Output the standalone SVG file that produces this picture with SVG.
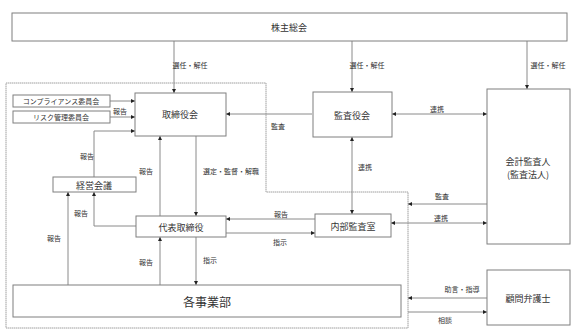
<svg xmlns="http://www.w3.org/2000/svg" width="578" height="334" viewBox="0 0 578 334">
<defs>
<marker id="ah" viewBox="0 0 6 6" refX="6" refY="3" markerWidth="4" markerHeight="4" orient="auto-start-reverse" markerUnits="userSpaceOnUse">
<path d="M0,0 L6,3 L0,6 z" fill="#222"/>
</marker>
<style>
.box{fill:#fff;stroke:#7f7f7f;stroke-width:1}
.ln{fill:none;stroke:#8a8a8a;stroke-width:1}
.t{font-family:"Noto Sans CJK JP","Noto Sans CJK SC",sans-serif;fill:#333;text-anchor:middle;dominant-baseline:central}
.s{font-size:7px}
.m{font-size:9px}
.l{font-size:12px}
</style>
</defs>
<rect width="578" height="334" fill="#fff"/>
<path d="M6,83 H266 V192 H408 V328 H6 Z" fill="none" stroke="#a0a0a0" stroke-width="1" stroke-dasharray="1.5,0.5"/>

<g id="connectors">
<line class="ln" x1="174" y1="41" x2="174" y2="93" marker-end="url(#ah)"/>
<line class="ln" x1="352" y1="41" x2="352" y2="92" marker-end="url(#ah)"/>
<line class="ln" x1="527" y1="41" x2="527" y2="89" marker-end="url(#ah)"/>
<line class="ln" x1="110" y1="101" x2="135" y2="101" marker-end="url(#ah)"/>
<line class="ln" x1="110" y1="117" x2="135" y2="117" marker-end="url(#ah)"/>
<polyline class="ln" points="94,177 94,131 135,131" marker-end="url(#ah)"/>
<line class="ln" x1="312" y1="114" x2="226" y2="114" marker-end="url(#ah)"/>
<line class="ln" x1="392" y1="114" x2="487" y2="114" marker-start="url(#ah)" marker-end="url(#ah)"/>
<line class="ln" x1="160" y1="216" x2="160" y2="136" marker-end="url(#ah)"/>
<line class="ln" x1="196" y1="136" x2="196" y2="216" marker-end="url(#ah)"/>
<line class="ln" x1="352" y1="137" x2="352" y2="214" marker-start="url(#ah)" marker-end="url(#ah)"/>
<line class="ln" x1="487" y1="204" x2="408" y2="204" marker-end="url(#ah)"/>
<line class="ln" x1="391" y1="223" x2="487" y2="223" marker-start="url(#ah)" marker-end="url(#ah)"/>
<line class="ln" x1="315" y1="219" x2="226" y2="219" marker-end="url(#ah)"/>
<line class="ln" x1="226" y1="233" x2="315" y2="233" marker-end="url(#ah)"/>
<polyline class="ln" points="136,226 94,226 94,192" marker-end="url(#ah)"/>
<line class="ln" x1="68" y1="285" x2="68" y2="192" marker-end="url(#ah)"/>
<line class="ln" x1="160" y1="285" x2="160" y2="237" marker-end="url(#ah)"/>
<line class="ln" x1="196" y1="237" x2="196" y2="285" marker-end="url(#ah)"/>
<line class="ln" x1="487" y1="298" x2="408" y2="298" marker-end="url(#ah)"/>
<line class="ln" x1="408" y1="312" x2="487" y2="312" marker-end="url(#ah)"/>
<text class="t s" x="190" y="65">選任・解任</text>
<text class="t s" x="367" y="65">選任・解任</text>
<text class="t s" x="548" y="65">選任・解任</text>
<text class="t s" x="120" y="111">報告</text>
<text class="t s" x="87" y="156">報告</text>
<text class="t s" x="146" y="171">報告</text>
<text class="t s" x="231" y="171">選定・監督・解職</text>
<text class="t s" x="278" y="126">監査</text>
<text class="t s" x="437" y="109">連携</text>
<text class="t s" x="365" y="167">連携</text>
<text class="t s" x="442" y="196">監査</text>
<text class="t s" x="441" y="218">連携</text>
<text class="t s" x="281" y="214">報告</text>
<text class="t s" x="280" y="242">指示</text>
<text class="t s" x="81" y="213">報告</text>
<text class="t s" x="54" y="238">報告</text>
<text class="t s" x="146" y="262">報告</text>
<text class="t s" x="210" y="260">指示</text>
<text class="t s" x="462" y="289">助言・指導</text>
<text class="t s" x="445" y="320">相談</text>
</g>

<g id="shareholders"><rect class="box" x="12" y="13" width="555" height="28"/><text class="t m" x="289" y="27">株主総会</text></g>
<g id="board"><rect class="box" x="135" y="93" width="91" height="43"/><text class="t m" x="180" y="114">取締役会</text></g>
<g id="compliance"><rect class="box" x="13" y="95" width="97" height="12"/><text class="t s" x="61" y="101">コンプライアンス委員会</text></g>
<g id="risk"><rect class="box" x="13" y="111" width="97" height="12"/><text class="t s" x="61" y="117">リスク管理委員会</text></g>
<g id="mgmt"><rect class="box" x="53" y="177" width="83" height="15"/><text class="t m" x="94" y="185">経営会議</text></g>
<g id="auditboard"><rect class="box" x="313" y="92" width="79" height="45"/><text class="t m" x="352" y="115">監査役会</text></g>
<g id="accountant"><rect class="box" x="487" y="89" width="83" height="155"/><text class="t m" x="528" y="161">会計監査人</text><text class="t m" x="528" y="174">(監査法人)</text></g>
<g id="internal"><rect class="box" x="315" y="214" width="76" height="23"/><text class="t m" x="353" y="226">内部監査室</text></g>
<g id="ceo"><rect class="box" x="136" y="216" width="90" height="21"/><text class="t m" x="181" y="227">代表取締役</text></g>
<g id="divisions"><rect class="box" x="13" y="285" width="388" height="32"/><text class="t l" x="207" y="301">各事業部</text></g>
<g id="lawyer"><rect class="box" x="487" y="270" width="83" height="55"/><text class="t m" x="528" y="298">顧問弁護士</text></g>
</svg>
